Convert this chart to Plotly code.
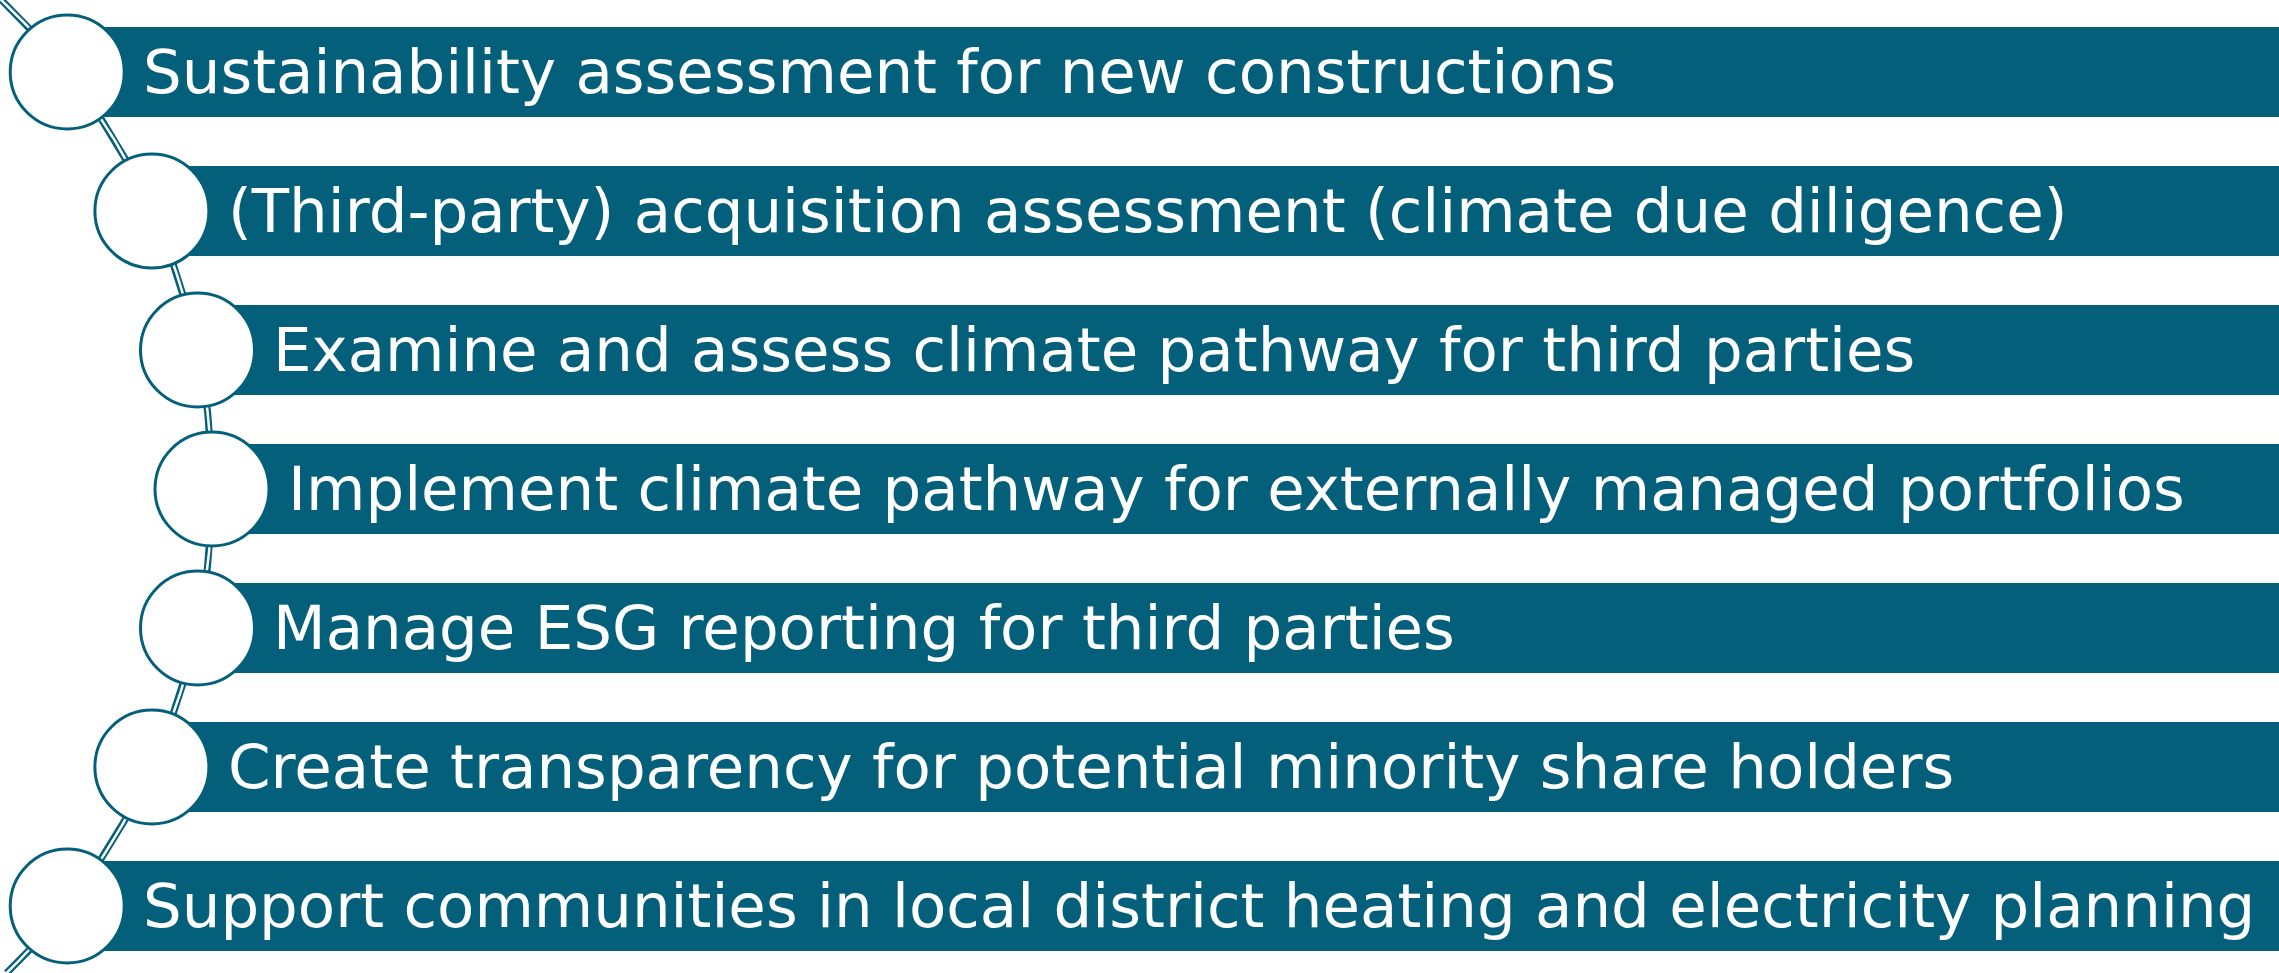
import numpy as np
import plotly.graph_objects as go

# items of the vertical circle list, top to bottom
labels = [
    "Sustainability assessment for new constructions",
    "(Third-party) acquisition assessment (climate due diligence)",
    "Examine and assess climate pathway for third parties",
    "Implement climate pathway for externally managed portfolios",
    "Manage ESG reporting for third parties",
    "Create transparency for potential minority share holders",
    "Support communities in local district heating and electricity planning",
]

W, H = 2279, 973
teal = "#04607a"

# layout in pixels
row0, pitch, bar_h = 72, 139, 90
arc_cy = row0 + pitch * 3
arc_r = 672.9
arc_cx = 212 - arc_r
circle_d = 114

rows = np.array([row0 + pitch * i for i in range(len(labels))], dtype=float)
cx = arc_cx + np.sqrt(arc_r ** 2 - (rows - arc_cy) ** 2)

t = np.linspace(0, H, 300)
arc_x = arc_cx + np.sqrt(np.clip(arc_r ** 2 - (t - arc_cy) ** 2, 0, None))

fig = go.Figure()

# double line arc
fig.add_trace(go.Scatter(x=arc_x, y=t, mode="lines", line=dict(color=teal, width=7),
                         hoverinfo="skip"))
fig.add_trace(go.Scatter(x=arc_x, y=t, mode="lines", line=dict(color="white", width=2.5),
                         hoverinfo="skip"))

# bars
fig.add_trace(go.Bar(y=rows, x=W + 10 - cx, base=cx, orientation="h", width=bar_h,
                     marker=dict(color=teal, line=dict(width=0)), hoverinfo="skip"))

# circles
fig.add_trace(go.Scatter(x=cx, y=rows, mode="markers",
                         marker=dict(size=circle_d, color="white",
                                     line=dict(color=teal, width=3)),
                         hoverinfo="skip"))

for x0, y0, lab in zip(cx, rows, labels):
    fig.add_annotation(x=x0 + 74, y=y0 - 1, text=lab, showarrow=False,
                       xanchor="left", yanchor="middle",
                       font=dict(family="DejaVu Sans", size=61, color="white"))

fig.update_xaxes(range=[0, W], visible=False, fixedrange=True)
fig.update_yaxes(range=[H, 0], visible=False, fixedrange=True)
fig.update_layout(width=W, height=H, margin=dict(l=0, r=0, t=0, b=0),
                  showlegend=False, plot_bgcolor="white", paper_bgcolor="white",
                  bargap=0)

fig.write_html("out.html", config={"displayModeBar": False},
               post_script="document.body.style.margin='0px';")
